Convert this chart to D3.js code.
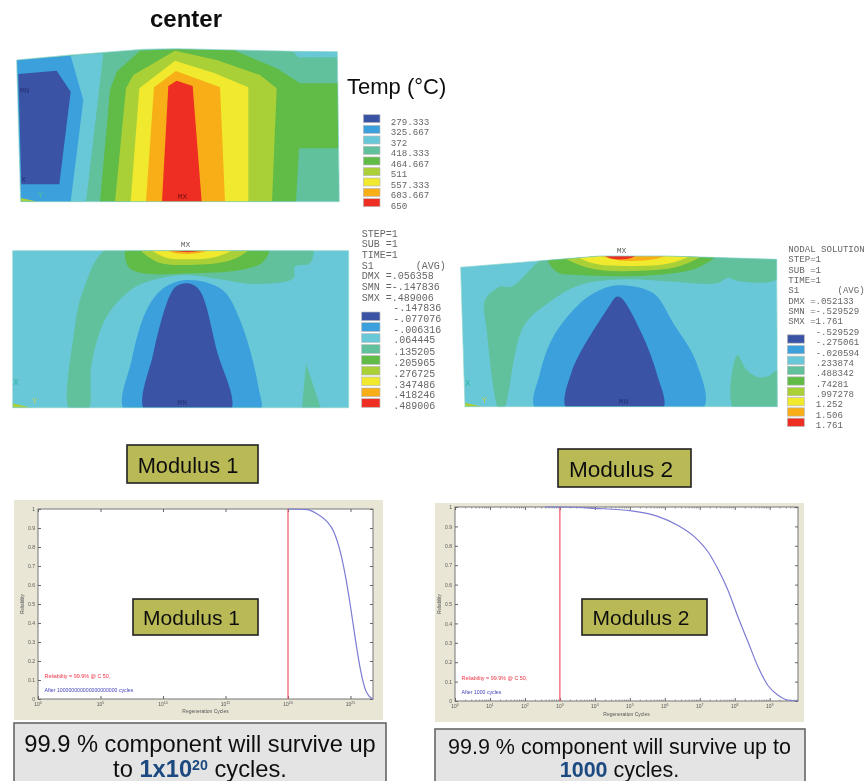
<!DOCTYPE html>
<html><head><meta charset="utf-8">
<script src="https://cdn.jsdelivr.net/npm/d3@7"></script>
<style>html,body{margin:0;padding:0;background:#fff;overflow:hidden}svg{display:block}
text{font-family:"Liberation Sans",Arial,sans-serif}.m{font-family:"Liberation Mono",monospace;fill:#666}</style>
</head><body><svg id="c" width="868" height="781"></svg>
<script>
// ---- contour colour bands
const bandColors=["#3a53a4","#3aa0dc","#68c8d8","#62c19d","#60bb46","#aad038","#f0e92e","#f8ae18","#ee2e24"];
// ---- temperature panel: model-space outlines [band index, vertices]
const tempOutline=[[50,180],[210,165],[430,148],[530,146],[880,154],[1012,155],[1018,605],[62,605]];
const tempBands=[
[2,[[212,167],[310,160],[258,605],[212,605]]],
[1,[[50,180],[212,167],[250,300],[212,605],[62,605]]],
[0,[[55,222],[170,212],[212,275],[178,553],[64,553]]],
[2,[[880,155],[1012,155],[1012,172],[895,172]]],
[4,[[300,605],[330,270],[350,215],[420,152],[530,148],[700,150],[830,205],[900,250],[1015,250],[1015,445],[897,445],[888,605]]],
[5,[[345,605],[378,265],[400,225],[525,152],[650,180],[780,225],[830,265],[816,605]]],
[6,[[392,605],[418,265],[525,182],[640,218],[745,262],[745,605]]],
[7,[[438,605],[462,262],[528,213],[660,262],[675,605]]],
[8,[[486,605],[505,258],[530,242],[578,258],[605,605]]],
[5,[[62,594],[115,605],[62,605]]]];
// ---- modulus 1 stress panel
const stress1Outline=[[38,92],[1046,92],[1046,563],[38,563]];
const stress1Bands=[
[3,[[210,575],[222,340],[250,210],[330,80],[935,80],[930,130],[885,140],[880,175],[760,192],[660,178],[560,165],[480,175],[400,205],[320,290],[275,430],[262,575]]],
[3,[[906,563],[918,430],[962,563]]],
[4,[[382,80],[805,80],[790,125],[720,150],[570,160],[430,160],[385,140]]],
[5,[[418,80],[752,80],[700,118],[570,135],[470,125]]],
[6,[[447,80],[710,80],[650,110],[560,118],[490,110]]],
[7,[[490,85],[640,85],[590,100],[530,100]]],
[8,[[505,92],[610,92],[565,97]]],
[1,[[376,575],[395,420],[440,270],[490,205],[560,180],[665,208],[720,300],[775,500],[778,575]]],
[0,[[436,575],[460,400],[510,225],[530,198],[565,190],[598,210],[650,390],[690,575]]],
[5,[[38,550],[95,563],[38,563]]]];
// ---- modulus 2 stress panel
const stress2Outline=[[62,112],[330,90],[480,78],[680,78],[1010,88],[1012,530],[75,530]];
const stress2Bands=[
[3,[[135,210],[180,170],[215,170],[290,100],[330,70],[1020,70],[1010,148],[890,152],[865,143],[830,160],[700,155],[550,148],[420,165],[330,215],[250,290],[190,540],[178,540],[140,300]]],
[3,[[882,540],[892,375],[920,420],[955,442],[985,438],[1020,418],[1020,540]]],
[4,[[320,70],[830,70],[780,110],[650,135],[420,135],[350,125]]],
[5,[[358,70],[790,70],[720,108],[600,122],[450,115]]],
[6,[[400,70],[760,70],[690,100],[580,108],[460,100]]],
[7,[[470,70],[690,70],[640,88],[530,90]]],
[8,[[490,70],[595,70],[570,85],[510,85]]],
[1,[[288,540],[300,430],[340,320],[420,220],[480,180],[540,166],[640,190],[700,280],[770,400],[787,540]]],
[0,[[382,540],[395,425],[500,240],[530,200],[545,205],[600,300],[650,430],[667,540]]],
[5,[[75,518],[128,530],[75,530]]]];
// ---- legend and label text
const tempValues=["279.333","325.667","372","418.333","464.667","511","557.333","603.667","650"];
const stress1Header=["STEP=1","SUB =1","TIME=1","S1       (AVG)","DMX =.056358","SMN =-.147836","SMX =.489006"];
const stress1Values=["-.147836","-.077076","-.006316",".064445",".135205",".205965",".276725",".347486",".418246",".489006"];
const stress2Header=["NODAL SOLUTION","STEP=1","SUB =1","TIME=1","S1       (AVG)","DMX =.052133","SMN =-.529529","SMX =1.761"];
const stress2Values=["-.529529","-.275061","-.020594",".233874",".488342",".74281",".997278","1.252","1.506","1.761"];
// ---- reliability curves: log10(cycles) and reliability
const rel1LogCycles=[20,21.55,22.3,23.1,23.66,24.2,24.6,25,25.4,25.8,26.2,26.47,26.8];
const rel1Values=[1,.997,.975,.935,.88,.77,.645,.487,.31,.153,.047,.016,0];
const rel2LogCycles=[2.57,3,4,5.05,5.8,6.38,6.86,7.24,7.52,7.81,8.1,8.38,8.67,8.95,9.24,9.52,9.81];
const rel2Values=[1,1,.993,.98,.952,.905,.845,.768,.68,.57,.43,.305,.175,.08,.03,.005,0];
const rel1Ticks=[0,5,10,15,20,25];
const rel2Ticks=[0,1,2,3,4,5,6,7,8,9];
const relYTicks=[0,.1,.2,.3,.4,.5,.6,.7,.8,.9,1];

const svg=d3.select("#c");
const defs=svg.append("defs");
[["b1",.7],["b2",.75],["b3",.45]].forEach(([id,s])=>defs.append("filter").attr("id",id).attr("filterUnits","userSpaceOnUse").attr("x",0).attr("y",0).attr("width",868).attr("height",781).append("feGaussianBlur").attr("stdDeviation",s));

let clipN=0;
function contour(g,x,y,outline,bands,base,smooth){
  const line=d3.line().x(d=>x(d[0])).y(d=>y(d[1])).curve(d3.curveLinearClosed);
  const sm=d3.line().x(d=>x(d[0])).y(d=>y(d[1])).curve(d3.curveCatmullRomClosed.alpha(.5));
  const id="clip"+(clipN++);
  defs.append("clipPath").attr("id",id).append("path").attr("d",line(outline));
  const cg=g.append("g").attr("clip-path",`url(#${id})`);
  cg.append("path").attr("d",line(outline)).attr("fill",bandColors[base]);
  cg.selectAll("path.b").data(bands).join("path").attr("class","b").attr("d",d=>(smooth&&d[1].length>3?sm:line)(d[1])).attr("fill",d=>bandColors[d[0]]);
  g.append("path").attr("d",line(outline)).attr("fill","none").attr("stroke","#7fcfc8").attr("stroke-width",.7);
}
function mono(g,x,y,str,fs,fill){const t=g.append("text").attr("class","m").attr("x",x).attr("y",y).attr("font-size",fs).attr("dominant-baseline","central").style("white-space","pre").text(str);if(fill)t.style("fill",fill);return t;}
function swatches(g,x,y,xs,w,h,ys){
  g.selectAll("rect.s").data(bandColors).join("rect").attr("class","s").attr("x",x(xs)).attr("width",x(xs+w)-x(xs)).attr("y",(d,i)=>y(ys[i]-h/2)).attr("height",y(h)-y(0)).attr("fill",d=>d).attr("stroke","#bbb").attr("stroke-width",.7);
}
// temperature
{const x=d3.scaleLinear().domain([0,1350]).range([0,450]),y=d3.scaleLinear().domain([0,660]).range([0,220]);
 const g=svg.append("g").attr("filter","url(#b1)");
 contour(g,x,y,tempOutline,tempBands,3,false);
 mono(g,x(60),y(270),"MN",8,"#26337a");mono(g,x(63),y(537),"X",8,"#26337a");mono(g,x(113),y(588),"Y",9,"#49c0a0");mono(g,x(533),y(588),"MX",8,"#7a1812");
 swatches(g,x,y,1090,50,24,[356,388,420,451,483,515,546,577,608]);
 tempValues.forEach((v,i)=>mono(g,x(1172),y([366,398,430,461,492,524,555,587,619][i]),v,9.2));
}
// stress 1
{const x=d3.scaleLinear().domain([0,1320]).range([0,440]),y=d3.scaleLinear().domain([0,600]).range([220,420]);
 const g=svg.append("g").attr("filter","url(#b1)");
 contour(g,x,y,stress1Outline,stress1Bands,2,true);
 mono(g,x(542),y(74),"MX",8);mono(g,x(532),y(548),"MN",8,"#26337a");mono(g,x(40),y(490),"X",9,"#35b5a5");mono(g,x(96),y(545),"Y",9,"#b5d060");
 swatches(g,x,y,1085,55,26,[289,321,354,387,420,452,484,517,549]);
 stress1Header.forEach((v,i)=>mono(g,x(1085),y(42+32*i),v,10));
 stress1Values.forEach((v,i)=>mono(g,x(1180),y([266,298,331,362,397,430,462,495,527,558][i]),v,10));
}
// stress 2
{const x=d3.scaleLinear().domain([0,1284]).range([440,868]),y=d3.scaleLinear().domain([0,630]).range([230,440]);
 const g=svg.append("g").attr("filter","url(#b1)");
 contour(g,x,y,stress2Outline,stress2Bands,2,true);
 mono(g,x(530),y(62),"MX",8);mono(g,x(536),y(513),"MN",8,"#26337a");mono(g,x(75),y(462),"X",9,"#35b5a5");mono(g,x(125),y(513),"Y",9,"#b5d060");
 swatches(g,x,y,1042,51,25,[327,359,391,421,453,485,515,546,577]);
 stress2Header.forEach((v,i)=>mono(g,x(1045),y(58+31*i),v,9.1));
 stress2Values.forEach((v,i)=>mono(g,x(1127),y([307,338,369,400,431,463,493,524,556,587][i]),v,9.1));
}
// reliability plots
function relPlot(o){
  const root=svg.append("g").attr("filter","url(#b2)");
  root.append("rect").attr("x",o.px).attr("y",o.py).attr("width",o.pw).attr("height",o.ph).attr("fill","#e9e6d6");
  root.append("rect").attr("x",o.ax).attr("y",o.ay).attr("width",o.aw).attr("height",o.ah).attr("fill","#fff").attr("stroke","#777").attr("stroke-width",1);
  const x=d3.scaleLinear().domain([0,o.maxLog]).range([o.ax,o.ax+o.aw]),y=d3.scaleLinear().domain([0,1]).range([o.ay+o.ah,o.ay]);
  const ax=root.append("g").attr("transform",`translate(0,${o.ay+o.ah})`).call(d3.axisBottom(x).tickValues(o.ticks).tickSize(-3).tickFormat(()=>""));
  const ay=root.append("g").attr("transform",`translate(${o.ax},0)`).call(d3.axisLeft(y).tickValues(relYTicks).tickSize(-3).tickPadding(3).tickFormat(d=>d3.format("~g")(d)));
  const tx=root.append("g").attr("transform",`translate(0,${o.ay})`).call(d3.axisTop(x).tickValues(o.ticks).tickSize(-3).tickFormat(""));
  const ry=root.append("g").attr("transform",`translate(${o.ax+o.aw},0)`).call(d3.axisRight(y).tickValues(relYTicks).tickSize(-3).tickFormat(""));
  [ax,ay,tx,ry].forEach(a=>{a.select(".domain").remove();a.selectAll("line").attr("stroke","#666");a.selectAll("text").attr("fill","#555").attr("font-size",5).style("font-family","Liberation Sans")});
  o.ticks.forEach(t=>{const l=root.append("text").attr("x",x(t)).attr("y",o.ay+o.ah+o.tickDy).attr("text-anchor","middle").attr("fill","#555").attr("font-size",5).text("10");l.append("tspan").attr("dy",-2).attr("font-size",3.5).text(t);});
  if(o.minor){const mv=[];o.ticks.forEach(t=>d3.range(2,10).forEach(k=>{const v=t+Math.log10(k);if(v<=o.maxLog)mv.push(v)}));
    [[o.ay+o.ah,-1.5],[o.ay,1.5]].forEach(([yy,s])=>root.append("g").selectAll("line").data(mv).join("line").attr("x1",d=>x(d)).attr("x2",d=>x(d)).attr("y1",yy).attr("y2",yy+s).attr("stroke","#666").attr("stroke-width",.6));}
  root.append("line").attr("x1",x(o.mark)).attr("x2",x(o.mark)).attr("y1",o.ay).attr("y2",o.ay+o.ah).attr("stroke","#f0566a").attr("stroke-width",1.2);
  root.append("path").datum(d3.zip(o.logs,o.vals)).attr("fill","none").attr("stroke","#7c7cd4").attr("stroke-width",1.2).attr("d",d3.line().x(d=>x(d[0])).y(d=>y(d[1])).curve(d3.curveMonotoneX));
  root.append("text").attr("x",o.ax+o.aw/2).attr("y",o.py+o.ph-o.xlabDy).attr("text-anchor","middle").attr("fill","#555").attr("font-size",5).text("Regeneration Cycles");
  root.append("text").attr("transform",`translate(${o.ax-14.5},${o.ay+o.ah/2}) rotate(-90)`).attr("text-anchor","middle").attr("fill","#555").attr("font-size",4.6).text("Reliability");
  root.append("text").attr("x",o.ax+6.5).attr("y",o.ay+o.ah-21).attr("fill","#ee3344").attr("font-size",5.4).text("Reliability = 99.9% @ C 50,");
  root.append("text").attr("x",o.ax+6.5).attr("y",o.ay+o.ah-7.5).attr("fill","#4444bb").attr("font-size",5.2).text(o.after);
}
relPlot({px:14,py:500,pw:369,ph:220,ax:38,ay:509,aw:335,ah:190,maxLog:26.8,ticks:rel1Ticks,mark:20,logs:rel1LogCycles,vals:rel1Values,after:"After 100000000000000000000 cycles",tickDy:7,xlabDy:7});
relPlot({px:435,py:503,pw:369,ph:219,ax:455,ay:507,aw:343,ah:194,maxLog:9.81,ticks:rel2Ticks,mark:3,minor:true,logs:rel2LogCycles,vals:rel2Values,after:"After 1000 cycles",tickDy:7,xlabDy:6});
// text overlays
const fg=svg.append("g").attr("filter","url(#b3)");
fg.append("text").attr("x",186).attr("y",27).attr("text-anchor","middle").attr("font-size",24).attr("font-weight","bold").attr("fill","#111").text("center");
fg.append("text").attr("x",347).attr("y",94).attr("font-size",22).attr("fill","#111").text("Temp (°C)");
function tag(x0,y0,w,h,fs,label,cx,by){
  fg.append("rect").attr("x",x0).attr("y",y0).attr("width",w).attr("height",h).attr("fill","#b9b955").attr("stroke","#222").attr("stroke-width",1.6);
  fg.append("text").attr("x",cx).attr("y",by).attr("text-anchor","middle").attr("font-size",fs).attr("fill","#111").text(label);
}
tag(127,445,131,38,21.8,"Modulus 1",188,473);
tag(558,449,133,38,22.6,"Modulus 2",621,477);
tag(133,599,125,36,21,"Modulus 1",191.5,625);
tag(582,599,125,36,21,"Modulus 2",641,625);
function note(x0,y0,w,cx,b1,b2,fs,l1,parts){
  fg.append("rect").attr("x",x0).attr("y",y0).attr("width",w).attr("height",80).attr("fill","#e4e4e4").attr("stroke","#666").attr("stroke-width",1.6);
  const t=fg.append("text").attr("text-anchor","middle").attr("font-size",fs).attr("fill","#111");
  t.append("tspan").attr("x",cx).attr("y",b1).text(l1);
  parts.forEach((p,i)=>{const s=t.append("tspan").text(p.t);if(i==0)s.attr("x",cx).attr("y",b2);if(p.b)s.attr("font-weight","bold").attr("fill","#1c4a80");if(p.sup)s.attr("dy",-7).attr("font-size",fs*.6);if(p.down)s.attr("dy",7);});
}
note(14,723,372,200,752,777,23.7,"99.9 % component will survive up",[{t:"to "},{t:"1x10",b:1},{t:"20",b:1,sup:1},{t:" cycles.",down:1}]);
note(435,729,370,619.5,754,776.5,21.5,"99.9 % component will survive up to",[{t:"1000",b:1},{t:" cycles."}]);
</script></body></html>
